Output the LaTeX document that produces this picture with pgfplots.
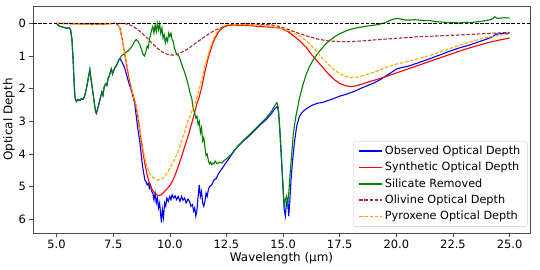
\documentclass[border=0pt]{standalone}
\usepackage{pgfplots}
\pgfplotsset{compat=1.18}
\usepackage{fontspec}
\setmainfont{DejaVu Sans}
\definecolor{mplgreen}{RGB}{0,128,0}
\definecolor{mplorange}{RGB}{255,165,0}
\definecolor{mplbrown}{RGB}{165,42,42}
\begin{document}
\begin{tikzpicture}
\useasboundingbox (-33bp,-37bp) rectangle (507bp,233bp);
\begin{axis}[
  at={(0,0)}, anchor=south west,
  scale only axis, width=497bp, height=227bp,
  xmin=3.96, xmax=25.9, ymin=-0.53, ymax=6.42,
  y dir=reverse,
  xtick={5,7.5,10,12.5,15,17.5,20,22.5,25},
  ytick={0,1,2,3,4,5,6},
  xticklabel style={/pgf/number format/.cd, fixed, fixed zerofill, precision=1},
  /pgf/number format/assume math mode=true,
  tick label style={font=\fontsize{11.5}{13}\selectfont},
  label style={font=\fontsize{12}{14}\selectfont},
  xlabel={Wavelength (μm)}, ylabel={Optical Depth},
  xlabel style={yshift=3bp}, ylabel style={yshift=-3bp},
  tick align=outside, tick pos=left, major tick length=3.5bp,
  axis line style={black!70, line width=0.6bp},
  every tick/.style={black!70, line width=0.6bp},
  legend cell align=left,
  legend style={at={(0.995,0.028)}, anchor=south east, draw=black!20, rounded corners=2bp,
    fill=white, font=\fontsize{11.3}{13}\selectfont,
    row sep=2.3bp, inner xsep=5bp, inner ysep=3bp},
  legend image code/.code={\draw[#1, sharp corners, line width=1.5bp] (0bp,0bp) -- (23bp,0bp);},
]
\addplot[blue, line width=1.1bp] coordinates {
(5.0,0) (5.1,0.08) (5.2,0.1) (5.3,0.12) (5.45,0.15) (5.55,0.13) (5.62,0.2) (5.68,0.5) (5.73,1.1) (5.78,1.9) (5.82,2.3) (5.88,2.4) (5.95,2.33) (6.02,2.37) (6.1,2.3) (6.17,2.33) (6.23,2.25) (6.3,2.05) (6.36,1.85) (6.42,1.6) (6.47,1.42) (6.5,1.6) (6.55,1.85) (6.6,2.1) (6.66,2.4) (6.72,2.7) (6.76,2.76) (6.8,2.65) (6.86,2.5) (6.93,2.3) (7.0,2.1) (7.05,2.2) (7.1,1.95) (7.17,1.85) (7.22,1.9) (7.27,1.7) (7.33,1.6) (7.38,1.48) (7.42,1.4) (7.47,1.55) (7.52,1.45) (7.58,1.35) (7.64,1.3) (7.7,1.2) (7.75,1.12) (7.8,1.08)
(7.9,1.2) (8.0,1.35) (8.1,1.6) (8.2,1.85) (8.3,2.05) (8.38,2.25) (8.45,2.45) (8.52,2.85) (8.6,3.3) (8.67,3.6) (8.75,4.1) (8.8,4.4) (8.85,4.6) (8.9,4.8) (8.95,4.85) (9.0,4.95) (9.05,4.9) (9.1,5.05) (9.15,4.95) (9.2,5.15) (9.25,5.2) (9.3,5.4) (9.35,5.2) (9.4,5.5) (9.45,5.35) (9.5,5.65) (9.55,5.5) (9.6,5.9) (9.63,6.1) (9.67,5.7) (9.72,5.95) (9.77,5.5) (9.82,5.6) (9.87,5.35) (9.93,5.45) (10.0,5.3) (10.05,5.4) (10.1,5.25) (10.17,5.35) (10.23,5.28) (10.3,5.4) (10.37,5.3) (10.45,5.45) (10.52,5.3) (10.58,5.42) (10.65,5.35) (10.72,5.5) (10.8,5.38) (10.87,5.45) (10.93,5.6) (11.0,5.55) (11.05,5.75) (11.1,5.65) (11.15,5.9) (11.2,5.7) (11.25,5.3) (11.3,4.95) (11.35,5.3) (11.4,5.15) (11.45,5.5) (11.5,5.6) (11.55,5.45) (11.6,5.2) (11.65,5.3) (11.7,5.1) (11.75,5.0) (11.85,4.95) (11.95,4.8) (12.05,4.75) (12.15,4.6) (12.25,4.5) (12.4,4.35) (12.55,4.2) (12.7,4.05) (12.85,3.9) (13.0,3.77) (13.25,3.6) (13.5,3.45) (13.75,3.28) (14.0,3.1) (14.25,2.95) (14.5,2.75) (14.65,2.6) (14.75,2.55) (14.8,2.7) (14.87,3.4) (14.93,4.2) (15.0,5.1) (15.05,5.7) (15.1,5.9) (15.15,5.5) (15.2,5.4) (15.25,5.9) (15.3,5.4) (15.35,4.8) (15.42,4.2) (15.5,3.65) (15.6,3.15) (15.72,2.85) (15.85,2.72) (16.0,2.63) (16.25,2.52) (16.5,2.45) (16.75,2.42) (17.0,2.36) (17.25,2.3) (17.5,2.23) (17.75,2.18) (18.0,2.12) (18.25,2.05) (18.5,1.97) (18.75,1.9) (19.0,1.83) (19.25,1.74) (19.5,1.63) (19.75,1.52) (20.0,1.4) (20.25,1.35) (20.5,1.32) (20.75,1.26) (21.0,1.2) (21.25,1.14) (21.5,1.08) (21.75,1.01) (22.0,0.95) (22.25,0.88) (22.5,0.82) (22.75,0.76) (23.0,0.71) (23.25,0.66) (23.5,0.6) (23.75,0.54) (24.0,0.48) (24.25,0.41) (24.4,0.33) (24.6,0.32) (24.8,0.3) (25.0,0.3)
};
\addlegendentry{Observed Optical Depth}
\addplot[red, line width=1.1bp] coordinates {
(5.0,0) (5.5,0.01) (6.0,0.02) (6.5,0.03) (7.0,0.03) (7.4,0.01) (7.6,0.0) (7.7,0.04) (7.8,0.15) (7.9,0.5) (8.0,0.9) (8.1,1.3) (8.2,1.7) (8.3,2.0) (8.4,2.25) (8.5,2.5) (8.6,2.9) (8.7,3.4) (8.8,3.9) (8.9,4.3) (9.0,4.65) (9.1,4.9) (9.2,5.07) (9.3,5.17) (9.4,5.24) (9.5,5.27) (9.6,5.26) (9.7,5.2) (9.8,5.12) (9.9,5.05) (10.0,4.97) (10.1,4.85) (10.2,4.7) (10.3,4.52) (10.4,4.33) (10.5,4.12) (10.6,3.9) (10.7,3.68) (10.8,3.47) (10.9,3.23) (11.0,2.98) (11.1,2.72) (11.2,2.45) (11.3,2.25) (11.4,1.98) (11.5,1.65) (11.6,1.33) (11.7,1.05) (11.8,0.82) (11.9,0.61) (12.0,0.45) (12.1,0.32) (12.2,0.22) (12.35,0.13) (12.5,0.08) (12.75,0.05) (13.0,0.06) (13.5,0.07) (14.0,0.1) (14.5,0.12) (14.9,0.15) (15.2,0.25) (15.5,0.4) (15.75,0.55) (16.0,0.72) (16.25,0.95) (16.5,1.15) (16.75,1.35) (17.0,1.55) (17.25,1.72) (17.5,1.84) (17.75,1.91) (18.0,1.94) (18.25,1.91) (18.5,1.86) (18.75,1.8) (19.0,1.75) (19.5,1.64) (20.0,1.52) (20.5,1.4) (21.0,1.28) (21.5,1.16) (22.0,1.04) (22.5,0.92) (23.0,0.8) (23.5,0.7) (24.0,0.6) (24.5,0.52) (25.0,0.45)
};
\addlegendentry{Synthetic Optical Depth}
\addplot[mplgreen, line width=1.1bp] coordinates {
(5.0,0) (5.1,0.08) (5.2,0.1) (5.3,0.12) (5.45,0.15) (5.55,0.13) (5.62,0.2) (5.68,0.5) (5.73,1.1) (5.78,1.9) (5.82,2.3) (5.88,2.38) (5.95,2.33) (6.02,2.36) (6.1,2.3) (6.17,2.32) (6.23,2.25) (6.3,2.05) (6.36,1.85) (6.42,1.6) (6.47,1.42) (6.5,1.6) (6.55,1.85) (6.6,2.1) (6.66,2.4) (6.72,2.7) (6.76,2.75) (6.8,2.65) (6.86,2.5) (6.93,2.3) (7.0,2.1) (7.05,2.2) (7.1,1.95) (7.17,1.85) (7.22,1.9) (7.27,1.7) (7.33,1.6) (7.38,1.48) (7.42,1.4) (7.47,1.55) (7.52,1.45) (7.58,1.35) (7.64,1.3) (7.7,1.2) (7.75,1.12) (7.8,1.08)
(7.85,1.0) (7.95,0.95) (8.05,0.9) (8.15,0.85) (8.25,0.78) (8.35,0.68) (8.45,0.55) (8.52,0.5) (8.6,0.55) (8.67,0.65) (8.75,0.8) (8.82,0.95) (8.88,1.0) (8.93,0.9) (9.0,0.7) (9.05,0.75) (9.1,0.5) (9.15,0.35) (9.2,0.2) (9.25,0.1) (9.3,0.3) (9.35,0.05) (9.4,0.25) (9.45,0.0) (9.5,0.2) (9.55,0.02) (9.6,0.3) (9.65,0.15) (9.7,0.45) (9.75,0.35) (9.8,0.6) (9.85,0.45) (9.9,0.55) (9.95,0.3) (10.0,0.4) (10.05,0.3) (10.1,0.5) (10.15,0.55) (10.2,0.75) (10.3,0.95) (10.4,1.0) (10.5,1.2) (10.6,1.4) (10.7,1.6) (10.8,1.85) (10.9,2.15) (10.97,2.3) (11.03,2.6) (11.1,2.75) (11.15,2.9) (11.2,2.85) (11.25,3.1) (11.3,3.0) (11.35,3.35) (11.4,3.2) (11.45,3.6) (11.5,3.5) (11.55,3.8) (11.6,4.05) (11.65,4.0) (11.7,4.2) (11.75,4.3) (11.8,4.25) (11.85,4.33) (11.9,4.28) (11.95,4.3) (12.0,4.22) (12.1,4.3) (12.2,4.25) (12.3,4.28) (12.4,4.2) (12.5,4.15) (12.6,4.08) (12.7,4.02) (12.8,3.93) (13.0,3.76) (13.25,3.58) (13.5,3.42) (13.75,3.25) (14.0,3.07) (14.25,2.9) (14.5,2.68) (14.65,2.5) (14.73,2.43) (14.78,2.55) (14.85,3.2) (14.92,4.0) (15.0,5.0) (15.05,5.6) (15.1,5.4) (15.15,5.3) (15.2,5.55) (15.25,5.2) (15.3,4.7) (15.38,4.0) (15.45,3.4) (15.55,2.9) (15.65,2.55) (15.72,2.3) (15.85,1.95) (16.0,1.6) (16.15,1.35) (16.3,1.15) (16.5,0.95) (16.7,0.78) (16.9,0.62) (17.1,0.5) (17.3,0.4) (17.5,0.32) (17.75,0.24) (18.0,0.18) (18.25,0.14) (18.5,0.11) (18.75,0.08) (19.0,0.06) (19.25,0.03) (19.5,-0.02) (19.75,-0.1) (20.0,-0.15) (20.2,-0.13) (20.4,-0.1) (20.6,-0.1) (20.8,-0.11) (21.0,-0.1) (21.25,-0.08) (21.5,-0.08) (21.75,-0.05) (22.0,-0.04) (22.25,-0.02) (22.5,-0.03) (22.75,-0.01) (23.0,-0.03) (23.25,-0.02) (23.5,-0.04) (23.75,-0.06) (24.0,-0.09) (24.2,-0.12) (24.35,-0.2) (24.45,-0.15) (24.6,-0.16) (24.8,-0.17) (25.0,-0.16)
};
\addlegendentry{Silicate Removed}
\addplot[mplbrown, dashed, dash pattern=on 3.5bp off 1.7bp, line width=1.1bp] coordinates {
(5.0,0) (7.9,0) (8.0,0.01) (8.2,0.04) (8.4,0.1) (8.6,0.2) (8.8,0.32) (9.0,0.45) (9.2,0.6) (9.4,0.73) (9.6,0.85) (9.8,0.93) (10.0,0.97) (10.2,0.97) (10.4,0.93) (10.6,0.86) (10.8,0.78) (11.0,0.68) (11.2,0.58) (11.4,0.48) (11.6,0.38) (11.8,0.29) (12.0,0.21) (12.2,0.15) (12.4,0.09) (12.6,0.05) (12.8,0.03) (13.0,0.02) (13.5,0.02) (14.0,0.03) (14.5,0.05) (15.0,0.13) (15.5,0.26) (16.0,0.38) (16.5,0.48) (17.0,0.54) (17.5,0.56) (18.0,0.56) (18.5,0.54) (19.0,0.51) (20.0,0.46) (21.0,0.41) (22.0,0.38) (23.0,0.35) (24.0,0.31) (25.0,0.28)
};
\addlegendentry{Olivine Optical Depth}
\addplot[mplorange, dashed, dash pattern=on 3.5bp off 1.7bp, line width=1.1bp] coordinates {
(5.0,0) (5.5,0.01) (6.0,0.02) (6.5,0.03) (7.0,0.03) (7.4,0.01) (7.6,0.0) (7.7,0.04) (7.8,0.15) (7.9,0.5) (8.0,0.9) (8.1,1.3) (8.2,1.7) (8.3,2.0) (8.4,2.25) (8.5,2.5) (8.6,2.88) (8.7,3.35) (8.8,3.8) (8.9,4.15) (9.0,4.4) (9.1,4.58) (9.2,4.68) (9.3,4.75) (9.4,4.79) (9.5,4.8) (9.6,4.78) (9.7,4.73) (9.8,4.66) (9.9,4.56) (10.0,4.45) (10.1,4.32) (10.2,4.18) (10.3,4.03) (10.4,3.85) (10.5,3.65) (10.6,3.43) (10.7,3.2) (10.8,3.0) (10.9,2.82) (11.0,2.65) (11.1,2.47) (11.2,2.28) (11.3,2.02) (11.4,1.72) (11.5,1.45) (11.6,1.2) (11.7,0.95) (11.8,0.72) (11.9,0.53) (12.0,0.38) (12.1,0.26) (12.2,0.17) (12.35,0.09) (12.5,0.05) (12.75,0.03) (13.0,0.04) (13.5,0.05) (14.0,0.06) (14.5,0.1) (15.0,0.17) (15.3,0.25) (15.72,0.38) (16.0,0.52) (16.25,0.68) (16.5,0.88) (16.75,1.08) (17.0,1.25) (17.25,1.42) (17.5,1.54) (17.75,1.62) (18.0,1.66) (18.25,1.65) (18.5,1.61) (18.75,1.56) (19.0,1.5) (19.5,1.36) (20.0,1.25) (20.5,1.17) (21.0,1.08) (21.5,0.98) (22.0,0.86) (22.5,0.74) (23.0,0.62) (23.5,0.52) (24.0,0.43) (24.5,0.37) (25.0,0.33)
};
\addlegendentry{Pyroxene Optical Depth}
\addplot[black, dashed, dash pattern=on 3.5bp off 1.7bp, line width=0.9bp, forget plot] coordinates {(3.96,0) (25.9,0)};
\end{axis}
\end{tikzpicture}
\end{document}
